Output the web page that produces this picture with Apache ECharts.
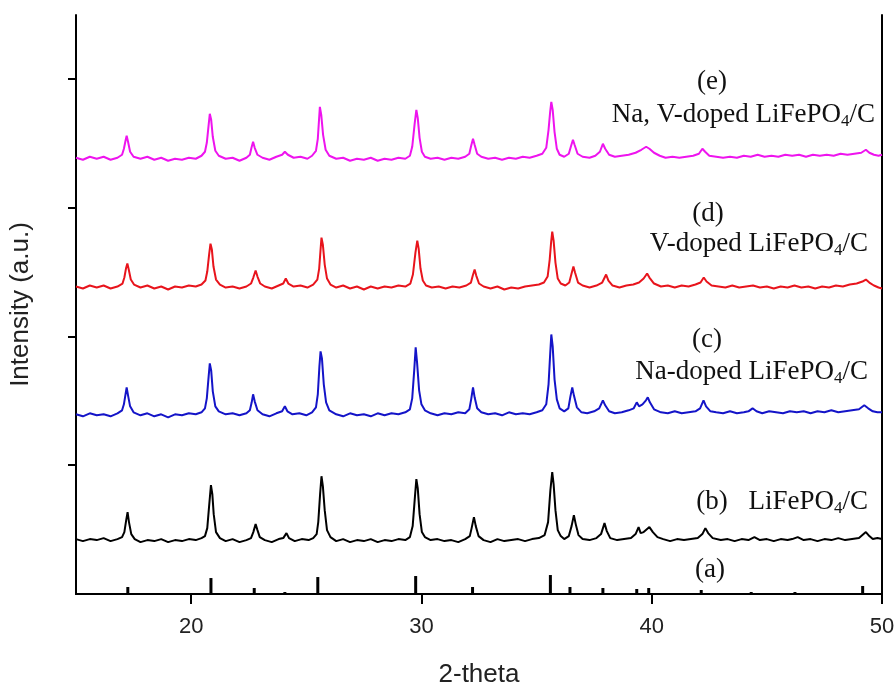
<!DOCTYPE html>
<html>
<head>
<meta charset="utf-8">
<script src="https://cdn.jsdelivr.net/npm/echarts@6/dist/echarts.min.js"></script>
<style>
  html, body { margin: 0; padding: 0; background: #fff; }
  #chart { width: 896px; height: 686px; }
</style>
</head>
<body>
<div id="chart"></div>
<script>
// x: 2-theta, y: intensity (arbitrary units)
var xTicks = [20, 30, 40, 50]
var yTicks = [129, 258, 387, 516]

// (a) reference pattern sticks [2theta, height]
var sticksA = [
  [17.25, 7], [20.86, 16], [22.74, 6], [24.07, 2], [25.5, 17], [29.75, 18], [32.22, 7],
  [35.6, 19], [36.45, 7], [37.88, 6], [39.35, 5], [39.87, 6], [42.15, 4], [44.32, 2],
  [46.22, 2], [49.16, 8]
]

// (b) LiFePO4/C
var traceB = [
  [15, 55], [15.3, 53], [15.6, 55], [15.9, 54], [16.2, 56], [16.5, 53], [16.8, 55], [17.0, 57],
  [17.1, 62], [17.18, 74], [17.24, 82], [17.3, 72], [17.4, 60], [17.55, 55],
  [17.8, 52], [18.1, 54], [18.4, 53], [18.7, 55], [19.0, 52], [19.3, 54], [19.6, 53], [19.9, 55], [20.2, 54], [20.45, 56], [20.6, 58],
  [20.7, 66], [20.78, 88], [20.86, 109], [20.92, 100], [20.98, 80], [21.08, 62], [21.25, 56],
  [21.5, 53], [21.8, 55], [22.1, 52], [22.4, 54], [22.6, 56],
  [22.7, 62], [22.8, 70], [22.88, 64], [22.98, 57],
  [23.2, 54], [23.5, 52], [23.8, 55], [24.0, 56], [24.14, 61], [24.25, 56], [24.5, 53], [24.8, 55], [25.1, 54], [25.3, 56], [25.45, 60],
  [25.52, 72], [25.6, 100], [25.66, 118], [25.72, 108], [25.8, 84], [25.9, 64], [26.05, 57],
  [26.3, 53], [26.6, 55], [26.9, 52], [27.2, 54], [27.5, 53], [27.8, 55], [28.1, 52], [28.4, 54], [28.7, 53], [29.0, 55], [29.3, 54], [29.5, 57],
  [29.62, 68], [29.72, 98], [29.78, 115], [29.84, 106], [29.92, 80], [30.02, 62], [30.15, 57],
  [30.4, 54], [30.7, 55], [31.0, 53], [31.3, 54], [31.6, 52], [31.9, 55], [32.1, 58],
  [32.18, 66], [32.28, 77], [32.36, 68], [32.48, 58],
  [32.7, 54], [33.0, 52], [33.3, 55], [33.6, 53], [33.9, 54], [34.2, 55], [34.5, 53], [34.8, 55], [35.1, 56], [35.35, 59],
  [35.5, 72], [35.6, 104], [35.68, 122], [35.74, 110], [35.82, 84], [35.92, 64], [36.05, 58], [36.2, 55], [36.4, 58],
  [36.52, 68], [36.62, 79], [36.7, 70], [36.82, 59],
  [37.0, 55], [37.3, 54], [37.6, 56], [37.8, 60], [37.95, 71], [38.05, 63], [38.2, 56], [38.5, 54], [38.8, 55], [39.1, 56], [39.3, 60],
  [39.43, 67], [39.52, 61], [39.65, 62], [39.9, 67], [40.05, 62], [40.25, 57],
  [40.5, 55], [40.8, 53], [41.1, 55], [41.4, 54], [41.7, 55], [42.0, 56], [42.2, 60], [42.33, 66], [42.45, 61], [42.65, 56],
  [43.0, 54], [43.3, 55], [43.6, 53], [43.9, 55], [44.2, 54], [44.46, 57], [44.7, 54], [45.0, 55], [45.3, 53], [45.6, 55], [45.9, 54],
  [46.1, 55], [46.34, 57], [46.6, 54], [46.9, 55], [47.2, 53], [47.5, 55], [47.8, 54], [48.1, 56], [48.4, 54], [48.7, 55], [49.0, 56],
  [49.3, 62], [49.45, 58], [49.6, 55], [49.8, 56], [50, 55]
]

// (c) Na-doped LiFePO4/C
var traceC = [
  [15, 180], [15.3, 178], [15.6, 181], [15.9, 179], [16.2, 180], [16.5, 178], [16.8, 181], [17.0, 184],
  [17.08, 190], [17.15, 200], [17.2, 207], [17.26, 199], [17.35, 188], [17.5, 182],
  [17.8, 179], [18.1, 181], [18.4, 178], [18.7, 180], [19.0, 177], [19.3, 180], [19.6, 179], [19.9, 181], [20.2, 180], [20.45, 182], [20.6, 186],
  [20.68, 196], [20.76, 218], [20.81, 231], [20.87, 224], [20.94, 203], [21.05, 188], [21.2, 183],
  [21.5, 180], [21.8, 181], [22.1, 179], [22.4, 181], [22.55, 184],
  [22.63, 192], [22.69, 200], [22.76, 193], [22.88, 184],
  [23.1, 180], [23.4, 178], [23.7, 181], [23.95, 183], [24.07, 188], [24.18, 183], [24.4, 180], [24.7, 181], [25.0, 179], [25.25, 182], [25.42, 187],
  [25.5, 200], [25.57, 228], [25.62, 243], [25.68, 236], [25.76, 210], [25.86, 192], [26.0, 184],
  [26.3, 180], [26.6, 178], [26.9, 181], [27.2, 179], [27.5, 180], [27.8, 178], [28.1, 181], [28.4, 179], [28.7, 181], [29.0, 180], [29.3, 182], [29.5, 185],
  [29.6, 196], [29.69, 225], [29.75, 247], [29.81, 232], [29.9, 204], [30.0, 190], [30.15, 184],
  [30.4, 181], [30.7, 179], [31.0, 181], [31.3, 180], [31.6, 182], [31.9, 181], [32.08, 185],
  [32.16, 195], [32.24, 207], [32.31, 197], [32.42, 186],
  [32.6, 182], [32.9, 180], [33.2, 181], [33.5, 179], [33.8, 182], [34.1, 180], [34.4, 181], [34.7, 180], [35.0, 182], [35.25, 184], [35.42, 190],
  [35.52, 210], [35.59, 240], [35.64, 260], [35.7, 248], [35.78, 215], [35.88, 195], [36.0, 186], [36.2, 183], [36.38, 186],
  [36.47, 198], [36.55, 207], [36.62, 199], [36.75, 187],
  [36.95, 182], [37.2, 181], [37.5, 183], [37.72, 186], [37.88, 194], [37.98, 189], [38.15, 183], [38.4, 181], [38.7, 182], [39.0, 184], [39.22, 186],
  [39.35, 192], [39.45, 188], [39.6, 190], [39.75, 194], [39.83, 197], [39.92, 192], [40.1, 185],
  [40.4, 182], [40.7, 181], [41.0, 183], [41.3, 181], [41.6, 182], [41.9, 183], [42.1, 186], [42.25, 194], [42.36, 188], [42.55, 183],
  [42.8, 182], [43.1, 181], [43.4, 183], [43.7, 181], [44.0, 182], [44.2, 183], [44.38, 186], [44.55, 183], [44.8, 181], [45.1, 183], [45.4, 182],
  [45.7, 181], [46.0, 183], [46.3, 182], [46.6, 183], [46.9, 181], [47.2, 183], [47.5, 182], [47.8, 184], [48.1, 182], [48.4, 183], [48.7, 184],
  [49.0, 185], [49.23, 189], [49.4, 186], [49.6, 183], [49.8, 182], [50, 182]
]

// (d) V-doped LiFePO4/C
var traceD = [
  [15, 308], [15.3, 306], [15.6, 309], [15.9, 307], [16.2, 309], [16.5, 306], [16.8, 308], [17.02, 311],
  [17.1, 317], [17.17, 326], [17.23, 331], [17.29, 325], [17.38, 315], [17.52, 310],
  [17.8, 307], [18.1, 309], [18.4, 306], [18.7, 308], [19.0, 305], [19.3, 308], [19.6, 307], [19.9, 309], [20.2, 308], [20.45, 310], [20.62, 314],
  [20.7, 323], [20.78, 340], [20.84, 351], [20.9, 345], [20.97, 328], [21.08, 315], [21.25, 310],
  [21.5, 307], [21.8, 308], [22.1, 306], [22.4, 308], [22.6, 311],
  [22.7, 317], [22.8, 324], [22.88, 318], [23.0, 311],
  [23.2, 308], [23.5, 306], [23.8, 309], [24.0, 311], [24.11, 316], [24.22, 311], [24.45, 308], [24.75, 309], [25.05, 307], [25.3, 310], [25.48, 315],
  [25.56, 326], [25.62, 345], [25.66, 357], [25.72, 350], [25.8, 330], [25.9, 316], [26.05, 310],
  [26.3, 307], [26.6, 309], [26.9, 306], [27.2, 308], [27.5, 305], [27.8, 308], [28.1, 306], [28.4, 308], [28.7, 307], [29.0, 309], [29.3, 308], [29.52, 311],
  [29.63, 320], [29.74, 342], [29.82, 354], [29.88, 346], [29.96, 326], [30.06, 314], [30.2, 309],
  [30.45, 307], [30.75, 308], [31.05, 306], [31.35, 308], [31.65, 307], [31.95, 309], [32.15, 312],
  [32.23, 319], [32.31, 325], [32.38, 319], [32.5, 311],
  [32.7, 308], [33.0, 306], [33.3, 308], [33.6, 305], [33.9, 307], [34.2, 306], [34.5, 308], [34.8, 309], [35.1, 310], [35.32, 312], [35.48, 318],
  [35.57, 335], [35.63, 352], [35.68, 363], [35.74, 354], [35.82, 332], [35.92, 316], [36.05, 311], [36.25, 309], [36.42, 312],
  [36.52, 321], [36.6, 328], [36.67, 322], [36.8, 312],
  [37.0, 309], [37.3, 307], [37.6, 309], [37.85, 312], [38.02, 320], [38.12, 314], [38.3, 309], [38.6, 307], [38.9, 309], [39.2, 310], [39.45, 312],
  [39.65, 316], [39.8, 321], [39.9, 317], [40.1, 311],
  [40.4, 308], [40.7, 309], [41.0, 307], [41.3, 309], [41.6, 308], [41.9, 310], [42.12, 312], [42.26, 317], [42.38, 313], [42.6, 309],
  [42.9, 308], [43.2, 307], [43.5, 309], [43.8, 307], [44.1, 308], [44.4, 309], [44.7, 307], [45.0, 308], [45.3, 306], [45.6, 308], [45.9, 307],
  [46.2, 309], [46.5, 307], [46.8, 308], [47.1, 306], [47.4, 308], [47.7, 307], [48.0, 309], [48.3, 308], [48.6, 310], [48.9, 311], [49.15, 313],
  [49.3, 315], [49.45, 312], [49.65, 309], [49.85, 307], [50, 306]
]

// (e) Na, V-doped LiFePO4/C
var traceE = [
  [15, 437], [15.3, 435], [15.6, 438], [15.9, 436], [16.2, 438], [16.5, 435], [16.8, 437], [17.0, 440],
  [17.08, 446], [17.15, 454], [17.2, 459], [17.26, 453], [17.35, 443], [17.5, 438],
  [17.8, 436], [18.1, 438], [18.4, 435], [18.7, 437], [19.0, 434], [19.3, 436], [19.6, 435], [19.9, 437], [20.2, 436], [20.45, 439], [20.6, 443],
  [20.68, 452], [20.76, 470], [20.81, 481], [20.87, 475], [20.94, 458], [21.05, 444], [21.2, 439],
  [21.5, 436], [21.8, 437], [22.1, 434], [22.4, 437], [22.55, 440],
  [22.62, 447], [22.69, 453], [22.76, 447], [22.88, 440],
  [23.1, 437], [23.4, 435], [23.7, 438], [23.95, 440], [24.07, 443], [24.2, 440], [24.45, 437], [24.75, 438], [25.05, 436], [25.25, 439], [25.42, 444],
  [25.5, 456], [25.55, 474], [25.59, 488], [25.65, 480], [25.73, 460], [25.84, 445], [26.0, 439],
  [26.3, 436], [26.6, 437], [26.9, 434], [27.2, 436], [27.5, 435], [27.8, 437], [28.1, 434], [28.4, 436], [28.7, 435], [29.0, 437], [29.3, 436], [29.5, 439],
  [29.6, 448], [29.71, 472], [29.78, 485], [29.84, 477], [29.92, 457], [30.02, 443], [30.15, 438],
  [30.4, 436], [30.7, 437], [31.0, 435], [31.3, 437], [31.6, 436], [31.9, 438], [32.08, 441],
  [32.16, 449], [32.24, 456], [32.31, 450], [32.42, 441],
  [32.6, 438], [32.9, 436], [33.2, 437], [33.5, 435], [33.8, 437], [34.1, 436], [34.4, 438], [34.7, 437], [35.0, 439], [35.25, 441], [35.42, 447],
  [35.52, 465], [35.59, 483], [35.64, 493], [35.7, 485], [35.78, 463], [35.88, 446], [36.0, 440], [36.2, 438], [36.4, 441],
  [36.5, 449], [36.58, 455], [36.65, 450], [36.78, 441],
  [37.0, 438], [37.3, 437], [37.55, 439], [37.75, 443], [37.88, 451], [37.98, 446], [38.15, 440], [38.4, 438], [38.7, 439], [39.0, 440], [39.3, 442],
  [39.55, 445], [39.76, 448], [39.9, 446], [40.1, 442], [40.35, 439],
  [40.6, 437], [40.9, 438], [41.2, 437], [41.5, 438], [41.8, 439], [42.05, 441], [42.2, 446], [42.32, 443], [42.5, 439],
  [42.8, 438], [43.1, 437], [43.4, 438], [43.7, 437], [44.0, 439], [44.3, 438], [44.6, 440], [44.9, 438], [45.2, 439], [45.5, 438], [45.8, 440],
  [46.1, 439], [46.4, 440], [46.7, 438], [47.0, 440], [47.3, 439], [47.6, 440], [47.9, 439], [48.2, 441], [48.5, 440], [48.8, 441], [49.1, 442],
  [49.3, 445], [49.45, 442], [49.65, 440], [49.85, 439], [50, 440]
]

var serif = '"Liberation Serif", "Times New Roman", serif'
var sans = '"Liberation Sans", Arial, sans-serif'

// label text, with the 4 in LiFePO4 as a subscript
function label(x, y, text, align) {
  return {
    type: 'text',
    x: x,
    y: y,
    style: {
      text: text,
      fill: '#111',
      fontSize: 27,
      fontFamily: serif,
      align: align || 'center',
      verticalAlign: 'middle',
      rich: {
        s: { fontSize: 17, fontFamily: serif, fill: '#111', padding: [13, 0, 0, 0] }
      }
    }
  }
}

function trace(name, data, color) {
  return {
    name: name,
    type: 'line',
    data: data,
    showSymbol: false,
    lineStyle: { color: color, width: 2 },
    z: 3
  }
}

var chart = echarts.init(document.getElementById('chart'))

var option = {
  animation: false,
  grid: { left: 76, right: 14, top: 15, bottom: 92, containLabel: false, outerBoundsMode: 'none' },
  xAxis: [{
    type: 'value',
    min: 15,
    max: 50,
    name: '2-theta',
    nameLocation: 'middle',
    nameGap: 68,
    nameTextStyle: { fontFamily: sans, fontSize: 26, color: '#222' },
    axisLine: { lineStyle: { color: '#000', width: 2 } },
    axisTick: { customValues: xTicks, length: 10, lineStyle: { color: '#000', width: 2 } },
    axisLabel: { customValues: xTicks, fontFamily: sans, fontSize: 22, color: '#222', margin: 22 },
    splitLine: { show: false }
  }, {
    type: 'value',
    position: 'top',
    min: 15,
    max: 50,
    axisLine: { show: true, lineStyle: { color: '#000', width: 2 } },
    axisTick: { show: false },
    axisLabel: { show: false },
    splitLine: { show: false }
  }],
  yAxis: [{
    type: 'value',
    min: 0,
    max: 580,
    interval: 129,
    name: 'Intensity (a.u.)',
    nameLocation: 'middle',
    nameGap: 42,
    nameTextStyle: { fontFamily: sans, fontSize: 26, color: '#222' },
    axisLine: { show: true, lineStyle: { color: '#000', width: 2 } },
    axisTick: { show: true, customValues: yTicks, length: 8, lineStyle: { color: '#000', width: 2 } },
    axisLabel: { show: false },
    splitLine: { show: false }
  }, {
    type: 'value',
    position: 'right',
    min: 0,
    max: 580,
    axisLine: { show: true, lineStyle: { color: '#000', width: 2 } },
    axisTick: { show: false },
    axisLabel: { show: false },
    splitLine: { show: false }
  }],
  series: [
    {
      name: '(a)',
      type: 'bar',
      data: sticksA,
      barWidth: 3,
      itemStyle: { color: '#000' },
      z: 2
    },
    trace('(b)', traceB, '#000000'),
    trace('(c)', traceC, '#1414c8'),
    trace('(d)', traceD, '#e8141c'),
    trace('(e)', traceE, '#ee14ee')
  ],
  graphic: [
    label(712, 82, '(e)'),
    label(875, 115, 'Na, V-doped LiFePO{s|4}/C', 'right'),
    label(708, 214, '(d)'),
    label(868, 244, 'V-doped LiFePO{s|4}/C', 'right'),
    label(707, 340, '(c)'),
    label(868, 372, 'Na-doped LiFePO{s|4}/C', 'right'),
    label(712, 502, '(b)'),
    label(868, 502, 'LiFePO{s|4}/C', 'right'),
    label(710, 570, '(a)')
  ]
}

chart.setOption(option)
</script>
</body>
</html>
